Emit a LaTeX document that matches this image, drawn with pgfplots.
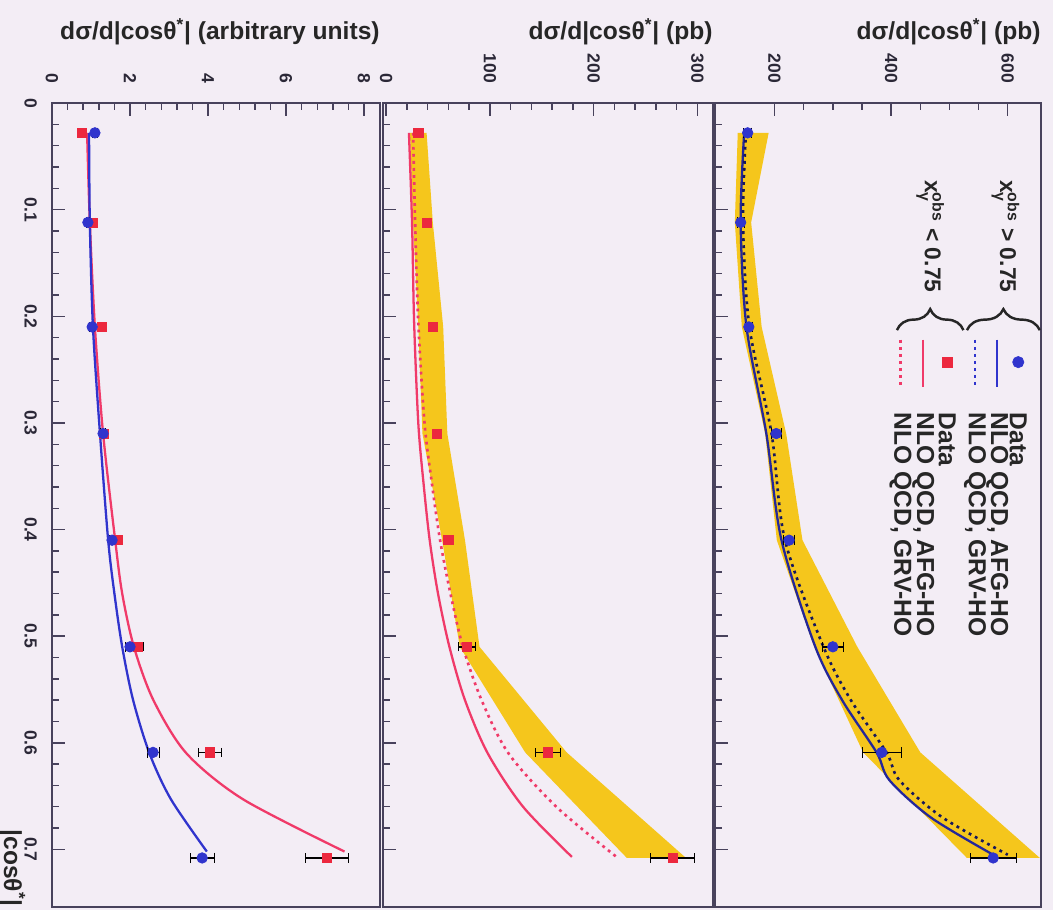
\documentclass[border=0pt]{standalone}
\usepackage{fontspec}
\setmainfont{Liberation Sans}
\usepackage{pgfplots}
\pgfplotsset{compat=1.18}
\usepackage{pgfplotstable}
\usetikzlibrary{decorations.pathreplacing}

\definecolor{bgc}{RGB}{243,237,245}
\definecolor{band}{RGB}{245,198,28}
\definecolor{dblue}{RGB}{48,52,205}
\definecolor{lred}{RGB}{240,58,105}
\definecolor{mred}{RGB}{236,40,62}
\definecolor{frame}{RGB}{72,66,92}

% x_gamma^obs > 0.75, pb
\pgfplotstableread{
c v e
0.028 154 7
0.112 142 6
0.21 156 6
0.31 203 8
0.41 225 9
0.51 300 18
0.609 384 34
0.708 575 40
}\hidata
% uncertainty band: lower edge down, upper edge back up
\pgfplotstableread{
c v
0.028 137
0.112 132
0.21 144
0.31 184
0.41 204
0.51 268
0.609 352
0.708 530
0.708 655
0.609 450
0.51 342
0.41 248
0.31 220
0.21 178
0.112 160
0.028 190
}\hiband
\pgfplotstableread{
c afg grv
0.028 148 151
0.112 142 146
0.21 152 157
0.31 186 195
0.41 212 218
0.51 270 284
0.56 316 331
0.609 375 392
0.635 397 414
0.67 468 488
0.705 575 600
}\hinlo

% x_gamma^obs < 0.75, pb
\pgfplotstableread{
c v e
0.028 31 3
0.112 39 3
0.21 45 3
0.31 49 4
0.41 60 5
0.51 78 8
0.609 156 12
0.708 276 21
}\lodata
\pgfplotstableread{
c v
0.028 23
0.112 26
0.21 31
0.31 35
0.41 54
0.51 71
0.609 134
0.708 232
0.708 289
0.609 174
0.51 90
0.41 76
0.31 59
0.21 55
0.112 45
0.028 39
}\loband
\pgfplotstableread{
c afg grv
0.028 22 26
0.113 25 28
0.206 27 31
0.30 31 37
0.356 36 44
0.41 42 52
0.46 50 62
0.51 61 74
0.56 76 92
0.61 98 118
0.66 132 164
0.707 179 222
}\lonlo

% shapes, arbitrary units
\pgfplotstableread{
c hi ehi lo elo
0.028 1.10 0.06 0.77 0.06
0.112 0.92 0.05 1.05 0.06
0.21 1.03 0.06 1.28 0.07
0.31 1.31 0.07 1.33 0.07
0.41 1.54 0.08 1.69 0.09
0.51 2.00 0.12 2.20 0.15
0.609 2.59 0.15 4.05 0.30
0.708 3.85 0.30 7.05 0.55
}\normdata
\pgfplotstableread{
c hi lo
0.028 0.95 0.90
0.112 0.97 0.97
0.21 1.05 1.10
0.31 1.23 1.31
0.41 1.44 1.62
0.46 1.60 1.80
0.51 1.80 2.10
0.56 2.08 2.60
0.61 2.50 3.45
0.653 3.05 4.90
0.702 3.97 7.50
}\normnlo

\pgfplotsset{
  panel/.style={
    scale only axis, height=16.08cm, anchor=south west,
    y dir=reverse, ymin=0, ymax=0.754,
    ytick={0,0.1,0.2,0.3,0.4,0.5,0.6,0.7}, minor y tick num=4,
    xtick pos=right, xticklabel pos=right, ytick pos=left,
    axis line style={draw=frame, line width=1.1pt},
    tick style={draw=frame, line width=0.8pt},
    major tick length=0.26cm, minor tick length=0.13cm,
    tick label style={font=\fontsize{10}{12}\selectfont\bfseries, text=frame!60!black},
    /pgf/number format/assume math mode=true,
    xticklabel style={rotate=-90, anchor=east},
    xticklabel shift=0.28cm,
    axis background/.style={fill=bgc},
  },
  ebar/.style={error bars/.cd, x dir=both, x explicit,
    error bar style={black, line width=0.9pt}},
  nlo/.style={smooth, line width=1.3pt, no marks},
  dotline/.style={smooth, line width=1.5pt, no marks, dash pattern=on 1.6pt off 2.4pt},
}

\begin{document}
\begin{tikzpicture}
\fill[bgc] (0,0) rectangle (21.06,18.2);
\path[use as bounding box] (0,0) rectangle (21.06,18.2);

% left: shapes
\begin{axis}[panel, name=L, at={(1.04cm,0.06cm)}, width=6.56cm,
  xmin=0, xmax=8.41, xtick={0,2,4,6,8}, minor x tick num=4,
  yticklabel style={rotate=-90, anchor=north}, yticklabel shift=0.18cm]
\addplot[nlo, lred] table[x=lo, y=c] {\normnlo};
\addplot[nlo, dblue] table[x=hi, y=c] {\normnlo};
\addplot[only marks, mark=square*, mark size=2.6pt, mred, ebar] table[x=lo, y=c, x error=elo] {\normdata};
\addplot[only marks, mark=*, mark size=3pt, dblue, ebar] table[x=hi, y=c, x error=ehi] {\normdata};
\end{axis}

% middle: low x_gamma
\begin{axis}[panel, name=M, at={(7.66cm,0.06cm)}, width=6.6cm,
  xmin=-3, xmax=315, xtick={0,100,200,300}, minor x tick num=4,
  yticklabels={}]
\addplot[fill=band, draw=none] table[x=v, y=c] {\loband} -- cycle;
\addplot[nlo, lred] table[x=afg, y=c] {\lonlo};
\addplot[dotline, lred] table[x=grv, y=c] {\lonlo};
\addplot[only marks, mark=square*, mark size=2.6pt, mred, ebar] table[x=v, y=c, x error=e] {\lodata};
\end{axis}

% right: high x_gamma
\begin{axis}[panel, name=R, at={(14.3cm,0.06cm)}, width=6.52cm,
  xmin=98, xmax=657, xtick={200,400,600}, minor x tick num=3,
  yticklabels={}, clip=false]
\addplot[fill=band, draw=none] table[x=v, y=c] {\hiband} -- cycle;
\addplot[nlo, dblue!75!black] table[x=afg, y=c] {\hinlo};
\addplot[dotline, dblue!45!black] table[x=grv, y=c] {\hinlo};
\addplot[only marks, mark=*, mark size=3pt, dblue, ebar] table[x=v, y=c, x error=e] {\hidata};
% legend
\addplot[only marks, mark=*, mark size=3.2pt, dblue] coordinates {(618,0.243)};
\addplot[dblue, line width=1.3pt] coordinates {(582,0.222) (582,0.266)};
\addplot[dblue, line width=1.5pt, dash pattern=on 1.6pt off 2.4pt] coordinates {(544,0.222) (544,0.266)};
\addplot[only marks, mark=square*, mark size=2.8pt, mred] coordinates {(496,0.243)};
\addplot[lred, line width=1.3pt] coordinates {(455,0.222) (455,0.266)};
\addplot[lred, line width=1.5pt, dash pattern=on 1.6pt off 2.4pt] coordinates {(416,0.222) (416,0.266)};
\begin{scope}[every node/.style={rotate=-90, anchor=west, inner sep=0pt,
    font=\fontsize{14}{16}\selectfont\bfseries, text=black!85}]
\node at (axis cs:618,0.29) {Data};
\node at (axis cs:582,0.29) {NLO QCD, AFG-HO};
\node at (axis cs:544,0.29) {NLO QCD, GRV-HO};
\node at (axis cs:496,0.29) {Data};
\node at (axis cs:455,0.29) {NLO QCD, AFG-HO};
\node at (axis cs:416,0.29) {NLO QCD, GRV-HO};
\end{scope}
\draw[black!85, line width=1.4pt, decorate, decoration={brace, amplitude=0.42cm}]
  (axis cs:530,0.213) -- (axis cs:655,0.213);
\draw[black!85, line width=1.4pt, decorate, decoration={brace, amplitude=0.42cm}]
  (axis cs:410,0.213) -- (axis cs:524,0.213);
\begin{scope}[every node/.style={rotate=-90, anchor=east, inner sep=0pt,
    font=\fontsize{13}{15}\selectfont\bfseries, text=black!85}]
\node at (axis cs:596,0.178) {x$^{\mbox{\fontsize{9}{10}\selectfont obs}}_{\mbox{\fontsize{9}{10}\selectfont γ}}$ > 0.75};
\node at (axis cs:467,0.178) {x$^{\mbox{\fontsize{9}{10}\selectfont obs}}_{\mbox{\fontsize{9}{10}\selectfont γ}}$ < 0.75};
\end{scope}
\end{axis}

% titles
\begin{scope}[every node/.style={anchor=base east, inner sep=0pt,
    font=\fontsize{14}{16}\selectfont\bfseries, text=black!85}]
\node at ([yshift=1.26cm]L.north east) {dσ/d|cosθ\textsuperscript{*}| (arbitrary units)};
\node at ([yshift=1.26cm]M.north east) {dσ/d|cosθ\textsuperscript{*}| (pb)};
\node at ([yshift=1.26cm]R.north east) {dσ/d|cosθ\textsuperscript{*}| (pb)};
\end{scope}
\node[rotate=-90, anchor=east, inner sep=0pt, font=\fontsize{14}{16}\selectfont\bfseries, text=black!85]
  at (0.24,0.06) {|cosθ\textsuperscript{*}|};
\end{tikzpicture}
\end{document}
